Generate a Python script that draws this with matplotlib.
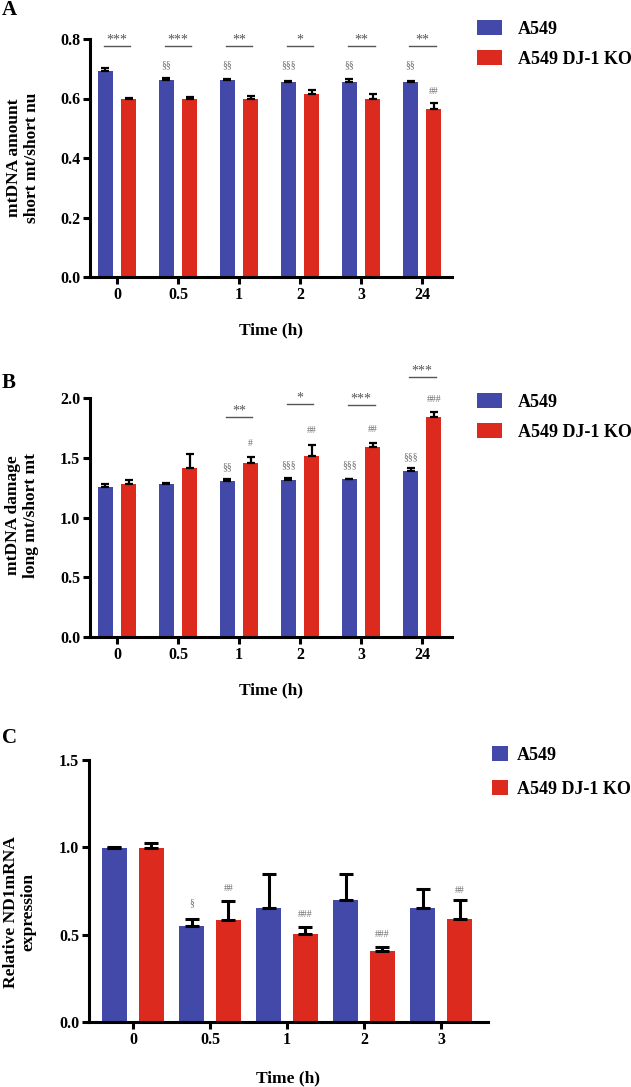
import numpy as np
import matplotlib
matplotlib.use("Agg")
import matplotlib.pyplot as plt

plt.rcParams['font.family'] = ['Liberation Serif', 'DejaVu Serif']
plt.rcParams['font.weight'] = 'bold'

# ---- data ----
series = ['A549', 'A549 DJ-1 KO']
times_ab = ['0', '0.5', '1', '2', '3', '24']
times_c = ['0', '0.5', '1', '2', '3']

# A: mtDNA amount
a_wt = [0.692, 0.661, 0.661, 0.655, 0.656, 0.654]
a_wt_err = [0.012, 0.008, 0.005, 0.003, 0.008, 0.004]
a_ko = [0.599, 0.600, 0.597, 0.614, 0.600, 0.565]
a_ko_err = [0.003, 0.004, 0.013, 0.014, 0.015, 0.019]
a_stars = ['***', '***', '**', '*', '**', '**']
a_star_y = [0.776, 0.776, 0.776, 0.776, 0.776, 0.776]
a_marks = [(1, 0, '§§', 0.712), (2, 0, '§§', 0.712), (3, 0, '§§§', 0.712),
           (4, 0, '§§', 0.712), (5, 0, '§§', 0.712), (5, 1, '##', 0.625)]

# B: mtDNA damage
b_wt = [1.258, 1.278, 1.303, 1.317, 1.320, 1.392]
b_wt_err = [0.02, 0.01, 0.015, 0.01, 0.005, 0.02]
b_ko = [1.280, 1.414, 1.453, 1.518, 1.587, 1.841]
b_ko_err = [0.03, 0.115, 0.05, 0.09, 0.035, 0.04]
b_stars = [None, None, '**', '*', '***', '***']
b_star_y = [None, None, 1.844, 1.947, 1.94, 2.176]
b_marks = [(2, 0, '§§', 1.425), (3, 0, '§§§', 1.44), (4, 0, '§§§', 1.44),
           (5, 0, '§§§', 1.51), (2, 1, '#', 1.62), (3, 1, '##', 1.73),
           (4, 1, '##', 1.74), (5, 1, '###', 1.99)]

# C: ND1 mRNA
c_wt = [0.995, 0.552, 0.653, 0.700, 0.655]
c_wt_err = [0.005, 0.04, 0.195, 0.146, 0.107]
c_ko = [0.995, 0.583, 0.505, 0.404, 0.592]
c_ko_err = [0.03, 0.11, 0.04, 0.025, 0.107]
c_marks = [(1, 0, '§', 0.684), (1, 1, '##', 0.762), (2, 1, '###', 0.613),
           (3, 1, '###', 0.50), (4, 1, '##', 0.752)]

blue = '#4249A8'
red = '#DD2A1E'
grey = '#6E6E6E'

W, H = 631, 1087
fig = plt.figure(figsize=(W / 100, H / 100), dpi=100)


def px_axes(l, r, t, b):
    return fig.add_axes([l / W, 1 - b / H, (r - l) / W, (b - t) / H])


def draw_panel(ax, labels, wt, wt_err, ko, ko_err, off, width, capsize, elw,
               ylim, yticks, ylabel, xlim, ylab_x, ylab_y, xlab_y):
    x = np.arange(len(labels))
    ax.bar(x - off, wt, width, color=blue, label=series[0], zorder=2)
    ax.bar(x + off, ko, width, color=red, label=series[1], zorder=2)
    ax.errorbar(x - off, wt, yerr=[np.zeros(len(wt)), wt_err], fmt='none',
                ecolor='black', elinewidth=elw, capsize=capsize, capthick=elw, zorder=3)
    ax.errorbar(x + off, ko, yerr=[np.zeros(len(ko)), ko_err], fmt='none',
                ecolor='black', elinewidth=elw, capsize=capsize, capthick=elw, zorder=3)
    ax.set_xlim(*xlim)
    ax.set_ylim(*ylim)
    ax.set_yticks(yticks)
    ax.set_yticklabels(['%.1f' % v for v in yticks])
    ax.set_xticks(x)
    ax.set_xticklabels(labels)
    for s in ['top', 'right']:
        ax.spines[s].set_visible(False)
    for s in ['left', 'bottom']:
        ax.spines[s].set_linewidth(2.2)
    ax.tick_params(axis='both', width=2.2, length=5, labelsize=11.5, pad=2)
    ax.set_ylabel(ylabel, fontsize=12.5, fontweight='bold', va='center', linespacing=1.15)
    ax.yaxis.set_label_coords(ylab_x, ylab_y)
    ax.set_xlabel('Time (h)', fontsize=12.5, fontweight='bold', va='center')
    ax.xaxis.set_label_coords(0.5, xlab_y)
    return x


def add_marks(ax, marks, off, fs=7):
    for gi, si, txt, y in marks:
        xx = gi - off if si == 0 else gi + off
        ax.text(xx, y, txt, ha='center', va='center', fontsize=fs,
                color=grey, fontweight='normal', clip_on=False)


def add_stars(ax, stars, star_y, half, dy):
    for gi, (st, y) in enumerate(zip(stars, star_y)):
        if st is None:
            continue
        ax.plot([gi - half, gi + half], [y, y], color='#555555', lw=1.0,
                clip_on=False, zorder=3)
        ax.text(gi, y + dy, st, ha='center', va='center', fontsize=10,
                color='#555555', fontweight='normal', clip_on=False)


def add_legend(ax, x0, y0, hl, hh, ls, tp):
    ax.legend(loc='upper left', bbox_to_anchor=(x0 / W, 1 - y0 / H),
              bbox_transform=fig.transFigure, frameon=False, borderpad=0,
              borderaxespad=0, handlelength=hl, handleheight=hh,
              labelspacing=ls, handletextpad=tp,
              prop={'family': 'Liberation Serif', 'weight': 'bold', 'size': 13})


# ---- panel A ----
axA = px_axes(90, 452, 39, 277)
draw_panel(axA, times_ab, a_wt, a_wt_err, a_ko, a_ko_err, 0.19, 0.248, 3.0, 1.6,
           (0, 0.8), [0.0, 0.2, 0.4, 0.6, 0.8], 'mtDNA amount\nshort mt/short nu',
           (-0.443, 5.49), -0.186, 0.5, -0.223)
add_stars(axA, a_stars, a_star_y, 0.22, 0.022)
add_marks(axA, a_marks, 0.19)
add_legend(axA, 477, 20, 1.4, 0.9, 0.7, 0.85)

# ---- panel B ----
axB = px_axes(90, 452, 398, 637)
draw_panel(axB, times_ab, b_wt, b_wt_err, b_ko, b_ko_err, 0.19, 0.248, 3.0, 1.6,
           (0, 2.0), [0.0, 0.5, 1.0, 1.5, 2.0], 'mtDNA damage\nlong mt/short mt',
           (-0.443, 5.49), -0.188, 0.51, -0.222)
add_stars(axB, b_stars, b_star_y, 0.22, 0.05)
add_marks(axB, b_marks, 0.19)
add_legend(axB, 477, 393, 1.4, 0.9, 0.7, 0.85)

# ---- panel C ----
axC = px_axes(89, 488, 760, 1022)
draw_panel(axC, times_c, c_wt, c_wt_err, c_ko, c_ko_err, 0.24, 0.33, 4.7, 2.2,
           (0, 1.5), [0.0, 0.5, 1.0, 1.5], 'Relative ND1mRNA\nexpression',
           (-0.571, 4.61), -0.173, 0.42, -0.214)
add_marks(axC, c_marks, 0.24)
add_legend(axC, 492, 746, 0.9, 0.9, 0.9, 0.5)

# panel letters
for letter, yp in [('A', 10), ('B', 383), ('C', 738)]:
    fig.text(2 / W, 1 - yp / H, letter, fontsize=15, fontweight='bold',
             ha='left', va='center')

fig.savefig('out.png', dpi=100)
